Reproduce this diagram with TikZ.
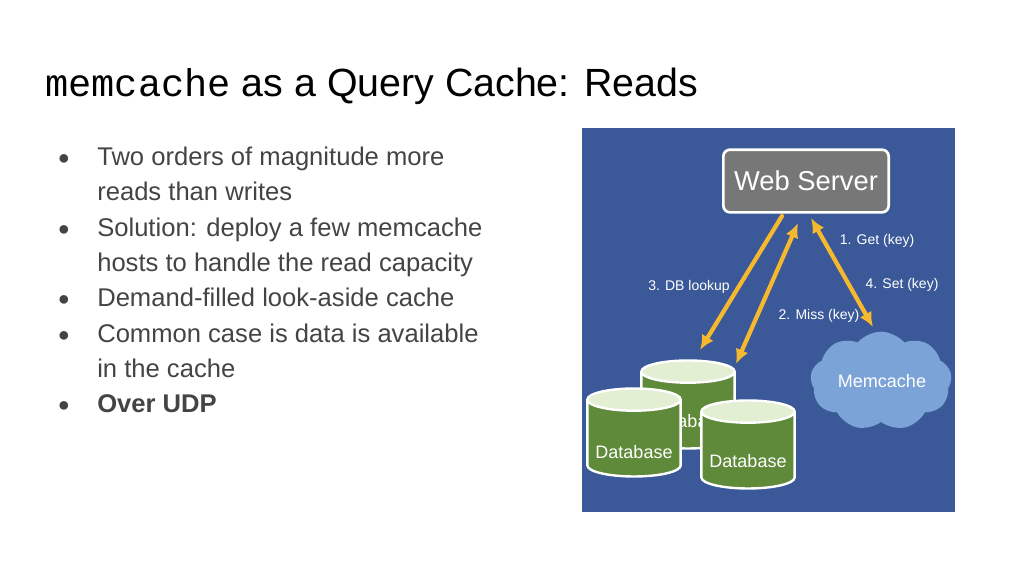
\documentclass[tikz,border=0pt]{standalone}
\usepackage{fontspec}
\setmainfont{Liberation Sans}
\setmonofont{Liberation Mono}
\usetikzlibrary{shapes.geometric,shapes.symbols,arrows.meta}
\definecolor{bg}{HTML}{3B5998}
\definecolor{ws}{HTML}{777777}
\definecolor{arr}{HTML}{F5B82E}
\definecolor{dbg}{HTML}{5E8A3A}
\definecolor{dbt}{HTML}{E2EFD2}
\definecolor{cl}{HTML}{7BA3D8}
\definecolor{txt}{HTML}{444444}
\begin{document}
\begin{tikzpicture}[x=0.75pt,y=-0.75pt,
  bul/.style={anchor=base west,font=\fontsize{19.2}{20}\selectfont,text=txt,inner sep=0},
  dot/.style={anchor=base,font=\fontsize{15}{15}\selectfont,text=txt,inner sep=0},
  db/.style={cylinder,shape border rotate=90,draw=white,line width=1.8pt,aspect=2.5,
    cylinder uses custom fill,cylinder body fill=dbg,cylinder end fill=dbt,
    minimum width=70pt,minimum height=66pt},
  dbl/.style={text=white,font=\fontsize{13.5}{15}\selectfont,inner sep=0},
  lab/.style={text=white,font=\fontsize{10.5}{12}\selectfont,inner sep=0},
  ar/.style={arr,line width=3.2pt,line cap=round}]
\useasboundingbox (0,0) rectangle (1024,576);
\fill[white] (0,0) rectangle (1024,576);
\node[anchor=base west,inner sep=0,font=\fontsize{29.5}{32}\selectfont] (title) at (45,96)
  {{\fontsize{29}{32}\selectfont\ttfamily memcache} as a Query Cache: Reads};
\foreach \i/\t/\yy in {1/Two orders of magnitude more/165,2/reads than writes/200,
  3/Solution: deploy a few memcache/236,4/hosts to handle the read capacity/271,
  5/Demand-filled look-aside cache/306,6/Common case is data is available/342,
  7/in the cache/377}
  \node[bul] (t\i) at (97,\yy) {\t};
\node[bul,font=\fontsize{19.2}{20}\selectfont\bfseries] (t8) at (97,412) {Over UDP};
\foreach \yy/\n in {165/1,236/2,306/3,342/4,412/5}
  \node[dot] (b\n) at (64,\yy-1) {●};
% diagram
\fill[bg] (582,128) rectangle (955,512);
\node[draw=white,line width=2pt,fill=ws,rounded corners=5pt,minimum width=124pt,minimum height=47pt,
  text=white,font=\fontsize{20.5}{22}\selectfont] (web) at (806,181) {Web Server};
\node[cloud,cloud puffs=9,cloud puff arc=100,aspect=1.5,fill=cl,minimum width=106pt,minimum height=74pt,
  inner sep=0] (mem) at (881,381) {};
\node[text=white,font=\fontsize{13.5}{15}\selectfont] (memt) at (882,381) {Memcache};
\node[db] (db1) at (688,413) {};
\node[dbl] (db1t) at (688,421) {Database};
\node[db] (db2) at (634,441) {};
\node[dbl] (db2t) at (634,452) {Database};
\node[db] (db3) at (748,453) {};
\node[dbl] (db3t) at (748,461) {Database};
\coordinate (a1s) at (782,216); \coordinate (a1e) at (700,350);
\coordinate (a2s) at (736,364); \coordinate (a2e) at (798,223);
\coordinate (a3s) at (811,218); \coordinate (a3e) at (873,327);
\draw[ar,-{Latex[length=11pt,width=10pt]}] (a1s) -- (a1e);
\draw[ar,{Latex[length=11pt,width=10pt]}-{Latex[length=11pt,width=10pt]}] (a2s) -- (a2e);
\draw[ar,{Latex[length=11pt,width=10pt]}-{Latex[length=11pt,width=10pt]}] (a3s) -- (a3e);
\node[lab] (l1) at (877,241) {1. Get (key)};
\node[lab] (l4) at (902,285) {4. Set (key)};
\node[lab] (l2) at (819,316) {2. Miss (key)};
\node[lab] (l3) at (689,287) {3. DB lookup};
\end{tikzpicture}
\end{document}
